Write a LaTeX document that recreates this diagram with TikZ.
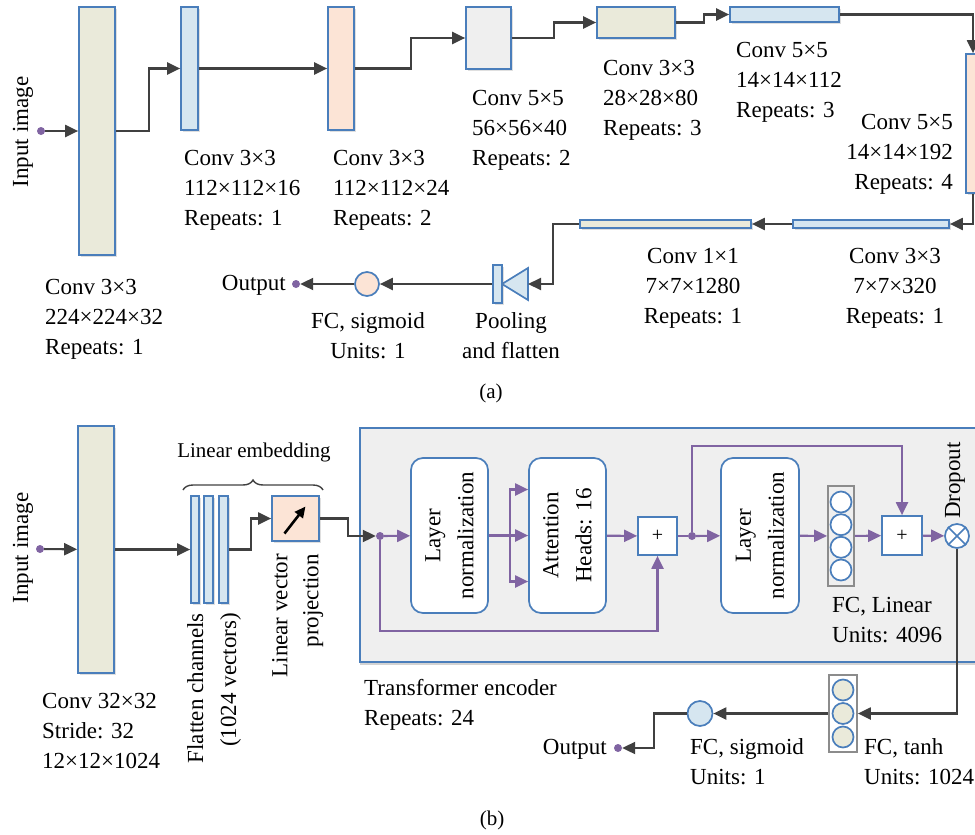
\documentclass[tikz,border=0pt]{standalone}
\usepackage{fontspec}
\setmainfont{Liberation Serif}
\usepackage{tikz}
\usetikzlibrary{arrows.meta, positioning, calc, shadows, decorations.pathreplacing}
\definecolor{myblue}{RGB}{74,126,187}
\definecolor{mydark}{RGB}{64,64,64}
\definecolor{mypurple}{RGB}{128,100,162}
\definecolor{mygrey}{RGB}{140,140,140}
\definecolor{hdrbeige}{RGB}{234,234,218}
\definecolor{hdrblue}{RGB}{214,230,240}
\definecolor{hdrpeach}{RGB}{252,228,214}
\definecolor{hdrgrey}{RGB}{239,239,239}
\newcommand{\lblfont}{\fontsize{23}{30}\selectfont}
\newcommand{\rotfont}{\fontsize{23}{33}\selectfont}
\tikzset{
  layer/.style={rectangle, draw=myblue, line width=1.7pt, inner sep=0pt,
    drop shadow={opacity=0.25, shadow xshift=1.5pt, shadow yshift=-1.5pt}},
  beigelayer/.style={layer, fill=hdrbeige},
  bluelayer/.style={layer, fill=hdrblue},
  peachlayer/.style={layer, fill=hdrpeach},
  greylayer/.style={layer, fill=hdrgrey},
  normbox/.style={rectangle, rounded corners=12pt, draw=myblue, fill=white,
    line width=1.7pt, minimum width=77pt, minimum height=155pt, inner sep=0pt},
  addbox/.style={rectangle, draw=myblue, fill=white, line width=1.7pt,
    minimum width=39pt, minimum height=38pt, inner sep=0pt, font=\fontsize{20}{20}\selectfont},
  unit/.style={circle, draw=myblue, line width=1.7pt, minimum size=21pt, inner sep=0pt},
  column/.style={rectangle, draw=mygrey, line width=1.7pt, inner sep=0pt},
  dot/.style={circle, fill=mypurple, minimum size=8pt, inner sep=0pt},
  lbl/.style={anchor=north west, align=left, inner sep=0pt, font=\lblfont},
  clbl/.style={anchor=north, align=center, inner sep=0pt, font=\lblfont},
  rlbl/.style={anchor=north east, align=right, inner sep=0pt, font=\lblfont},
  rottext/.style={rotate=90, align=center, inner sep=0pt, font=\rotfont},
  arrow/.style={-{Triangle[length=13pt,width=12pt]}, line width=2.1pt, color=mydark},
  parrow/.style={-{Triangle[length=13pt,width=12pt]}, line width=2.1pt, color=mypurple},
  line/.style={line width=2.1pt, color=mydark},
  pline/.style={line width=2.1pt, color=mypurple}
}

\begin{document}
\begin{tikzpicture}[x=1pt, y=-1pt]
  \clip (0,0) rectangle (975,835);

  % (a) convolution chain
  \node[dot] (in1) at (41,131) {};
  \node[rotate=90, inner sep=0pt, font=\lblfont] (inlbl1) at (23,132) {Input image};
  \node[beigelayer, minimum width=36pt, minimum height=248pt] (c1) at (97,131) {};
  \node[bluelayer, minimum width=17pt, minimum height=123pt] (c2) at (189.5,68.5) {};
  \node[peachlayer, minimum width=26pt, minimum height=123pt] (c3) at (341,68.5) {};
  \node[greylayer, minimum width=45pt, minimum height=62pt] (c4) at (488.5,38) {};
  \node[beigelayer, minimum width=78pt, minimum height=31pt] (c5) at (636,22.5) {};
  \node[bluelayer, minimum width=109pt, minimum height=15pt] (c6) at (784.5,14.5) {};
  \node[peachlayer, minimum width=14pt, minimum height=139pt] (c7) at (973,123.5) {};
  \node[bluelayer, minimum width=156pt, minimum height=8pt] (c8) at (871,224) {};
  \node[beigelayer, minimum width=171pt, minimum height=8pt] (c9) at (665.5,224) {};
  \draw[draw=myblue, fill=hdrblue, line width=1.7pt] (528,268) -- (528,300) -- (502,284) -- cycle;
  \coordinate (poolin) at (528,284);
  \node[bluelayer, minimum width=9pt, minimum height=38pt] (pool) at (497.5,284) {};
  \node[circle, draw=myblue, fill=hdrpeach, line width=1.7pt, minimum size=24pt, inner sep=0pt] (fc1) at (367,284) {};
  \node[dot] (out1) at (296,284) {};
  \node[anchor=base east, inner sep=0pt, font=\lblfont] (outlbl1) at (286,290) {Output};

  \node[lbl] (lc1) at (45,279) {Conv 3×3\\224×224×32\\Repeats: 1};
  \node[lbl] (lc2) at (184,150) {Conv 3×3\\112×112×16\\Repeats: 1};
  \node[lbl] (lc3) at (333,150) {Conv 3×3\\112×112×24\\Repeats: 2};
  \node[lbl] (lc4) at (472,90) {Conv 5×5\\56×56×40\\Repeats: 2};
  \node[lbl] (lc5) at (603,60) {Conv 3×3\\28×28×80\\Repeats: 3};
  \node[lbl] (lc6) at (736,42) {Conv 5×5\\14×14×112\\Repeats: 3};
  \node[rlbl] (lc7) at (953,114) {Conv 5×5\\14×14×192\\Repeats: 4};
  \node[clbl] (lc8) at (895,248) {Conv 3×3\\7×7×320\\Repeats: 1};
  \node[clbl] (lc9) at (693,248) {Conv 1×1\\7×7×1280\\Repeats: 1};
  \node[clbl] (lpool) at (511,312) {Pooling\\and flatten};
  \node[clbl] (lfc1) at (368,312) {FC, sigmoid\\Units: 1};
  \node[font=\fontsize{21}{21}\selectfont] (capa) at (491,393) {(a)};

  \draw[arrow] (in1) -- (c1);
  \draw[arrow] (c1.east) -- ++(33,0) |- (c2);
  \draw[arrow] (c2) -- (c3);
  \draw[arrow] (c3.east) -- ++(56,0) |- (c4);
  \draw[arrow] (c4.east) -- ++(42,0) |- (c5);
  \draw[arrow] (c5.east) -- ++(28,0) |- (c6);
  \draw[arrow] (c6.east) -| (c7.north);
  \draw[arrow] (c7.south) |- (c8.east);
  \draw[arrow] (c8) -- (c9);
  \draw[arrow] (c9.west) -- ++(-26,0) |- (poolin);
  \draw[arrow] (pool) -- (fc1);
  \draw[arrow] (fc1) -- (out1);

  % (b) vision transformer
  \node[dot] (in2) at (40,549) {};
  \node[rotate=90, inner sep=0pt, font=\lblfont] (inlbl2) at (23,548) {Input image};
  \node[beigelayer, minimum width=36pt, minimum height=247pt] (b1) at (96,549.5) {};
  \node[bluelayer, minimum width=8pt, minimum height=107pt] (fl1) at (195,549.5) {};
  \node[bluelayer, minimum width=9pt, minimum height=107pt] (fl2) at (208.5,549.5) {};
  \node[bluelayer, minimum width=9pt, minimum height=107pt] (fl3) at (223.5,549.5) {};
  \node[peachlayer, minimum width=47pt, minimum height=45pt] (proj) at (295.5,518.5) {};
  \draw[-{Triangle[length=11pt,width=10pt]}, line width=2.6pt, black]
    ([shift={(-11,15)}]proj.center) -- ([shift={(10,-12)}]proj.center);
  \draw[line, line width=1.4pt, decorate, decoration={brace, amplitude=10pt}]
    (183,490) -- (323,490);
  \node[font=\fontsize{21}{21}\selectfont] (lembed) at (254,452) {Linear embedding};
  \node[lbl] (lb1) at (42,693) {Conv 32×32\\Stride: 32\\12×12×1024};
  \node[rotate=90, anchor=north east, align=right, inner sep=0pt, font=\rotfont] (lflat) at (187,613) {Flatten channels\\(1024 vectors)};
  \node[rotate=90, anchor=north east, align=right, inner sep=0pt, font=\fontsize{23}{31}\selectfont] (lproj) at (272,554) {Linear vector\\projection};

  % transformer encoder
  \node[rectangle, draw=myblue, fill=hdrgrey, line width=1.7pt, minimum width=635pt, minimum height=234pt,
    drop shadow={opacity=0.35, shadow xshift=0pt, shadow yshift=-3pt}] (te) at (677.5,545) {};
  \node[lbl] (lte) at (364,679) {Transformer encoder\\Repeats: 24};
  \node[dot] (d1) at (380,536) {};
  \node[normbox] (ln1) at (449.5,535.5) {};
  \node[rottext] (ln1txt) at (ln1) {Layer\\normalization};
  \node[normbox] (att) at (567.5,535.5) {};
  \node[rottext] (atttxt) at (att) {Attention\\Heads: 16};
  \node[addbox] (add1) at (657.5,536) {+};
  \node[dot] (d2) at (692,536) {};
  \node[normbox, minimum width=78pt] (ln2) at (760,535.5) {};
  \node[rottext] (ln2txt) at (ln2) {Layer\\normalization};
  \node[column, minimum width=26pt, minimum height=100pt] (fc4) at (841,536) {};
  \foreach \k [count=\i] in {-34,-11.3,11.3,34}
    \node[unit, fill=white] (fcl\i) at ($(fc4)+(0,\k)$) {};
  \node[lbl] (lfc4) at (832,597) {FC, Linear\\Units: 4096};
  \node[addbox, minimum width=40pt, minimum height=39pt] (add2) at (902,535.5) {+};
  \node[circle, draw=myblue, fill=white, line width=1.7pt, minimum size=24pt, inner sep=0pt] (drop) at (957,536) {};
  \draw[myblue, line width=1.7pt] (drop.north east) -- (drop.south west)
    (drop.north west) -- (drop.south east);
  \node[rotate=90, anchor=west, inner sep=0pt, font=\lblfont] (ldrop) at (955,519) {Dropout};

  \draw[arrow] (in2) -- (b1);
  \draw[arrow] (b1) -- (fl1);
  \draw[arrow] (fl3.east) -- ++(22,0) |- (proj);
  \draw[arrow] (proj.east) -- ++(28,0) |- (d1);
  \draw[parrow] (d1) -- (ln1);
  \draw[parrow] (ln1) -- (att);
  \coordinate (split) at ($(ln1.east)+(21,0)$);
  \draw[parrow] (split) |- ([yshift=46pt]att.west);
  \draw[parrow] (split) |- ([yshift=-46pt]att.west);
  \draw[parrow] (att) -- (add1);
  \draw[parrow] (d1) -- ++(0,95) -| (add1.south);
  \draw[pline] (add1) -- (d2);
  \draw[parrow] (d2) -- (ln2);
  \draw[parrow] (d2) -- ++(0,-90) -| (add2.north);
  \draw[parrow] (ln2) -- (fc4);
  \draw[parrow] (fc4) -- (add2);
  \draw[parrow] (add2) -- (drop);

  % output head
  \node[column, minimum width=28pt, minimum height=77pt] (fc3) at (843,713.5) {};
  \foreach \k [count=\i] in {-23.5,0,23.5}
    \node[unit, fill=hdrbeige] (fct\i) at ($(fc3)+(0,\k)$) {};
  \node[circle, draw=myblue, fill=hdrblue, line width=1.7pt, minimum size=25pt, inner sep=0pt] (sig) at (700,713.5) {};
  \node[dot] (out2) at (618,748) {};
  \node[anchor=base east, inner sep=0pt, font=\lblfont] (outlbl2) at (607,754) {Output};
  \node[lbl] (lfc3) at (864,738) {FC, tanh\\Units: 1024};
  \node[lbl] (lsig) at (690,738) {FC, sigmoid\\Units: 1};
  \node[font=\fontsize{21}{21}\selectfont] (capb) at (492,820) {(b)};

  \draw[arrow] (drop.south) |- (fc3.east);
  \draw[arrow] (fc3) -- (sig);
  \draw[arrow] (sig.west) -- ++(-33,0) |- (out2);
\end{tikzpicture}
\end{document}
